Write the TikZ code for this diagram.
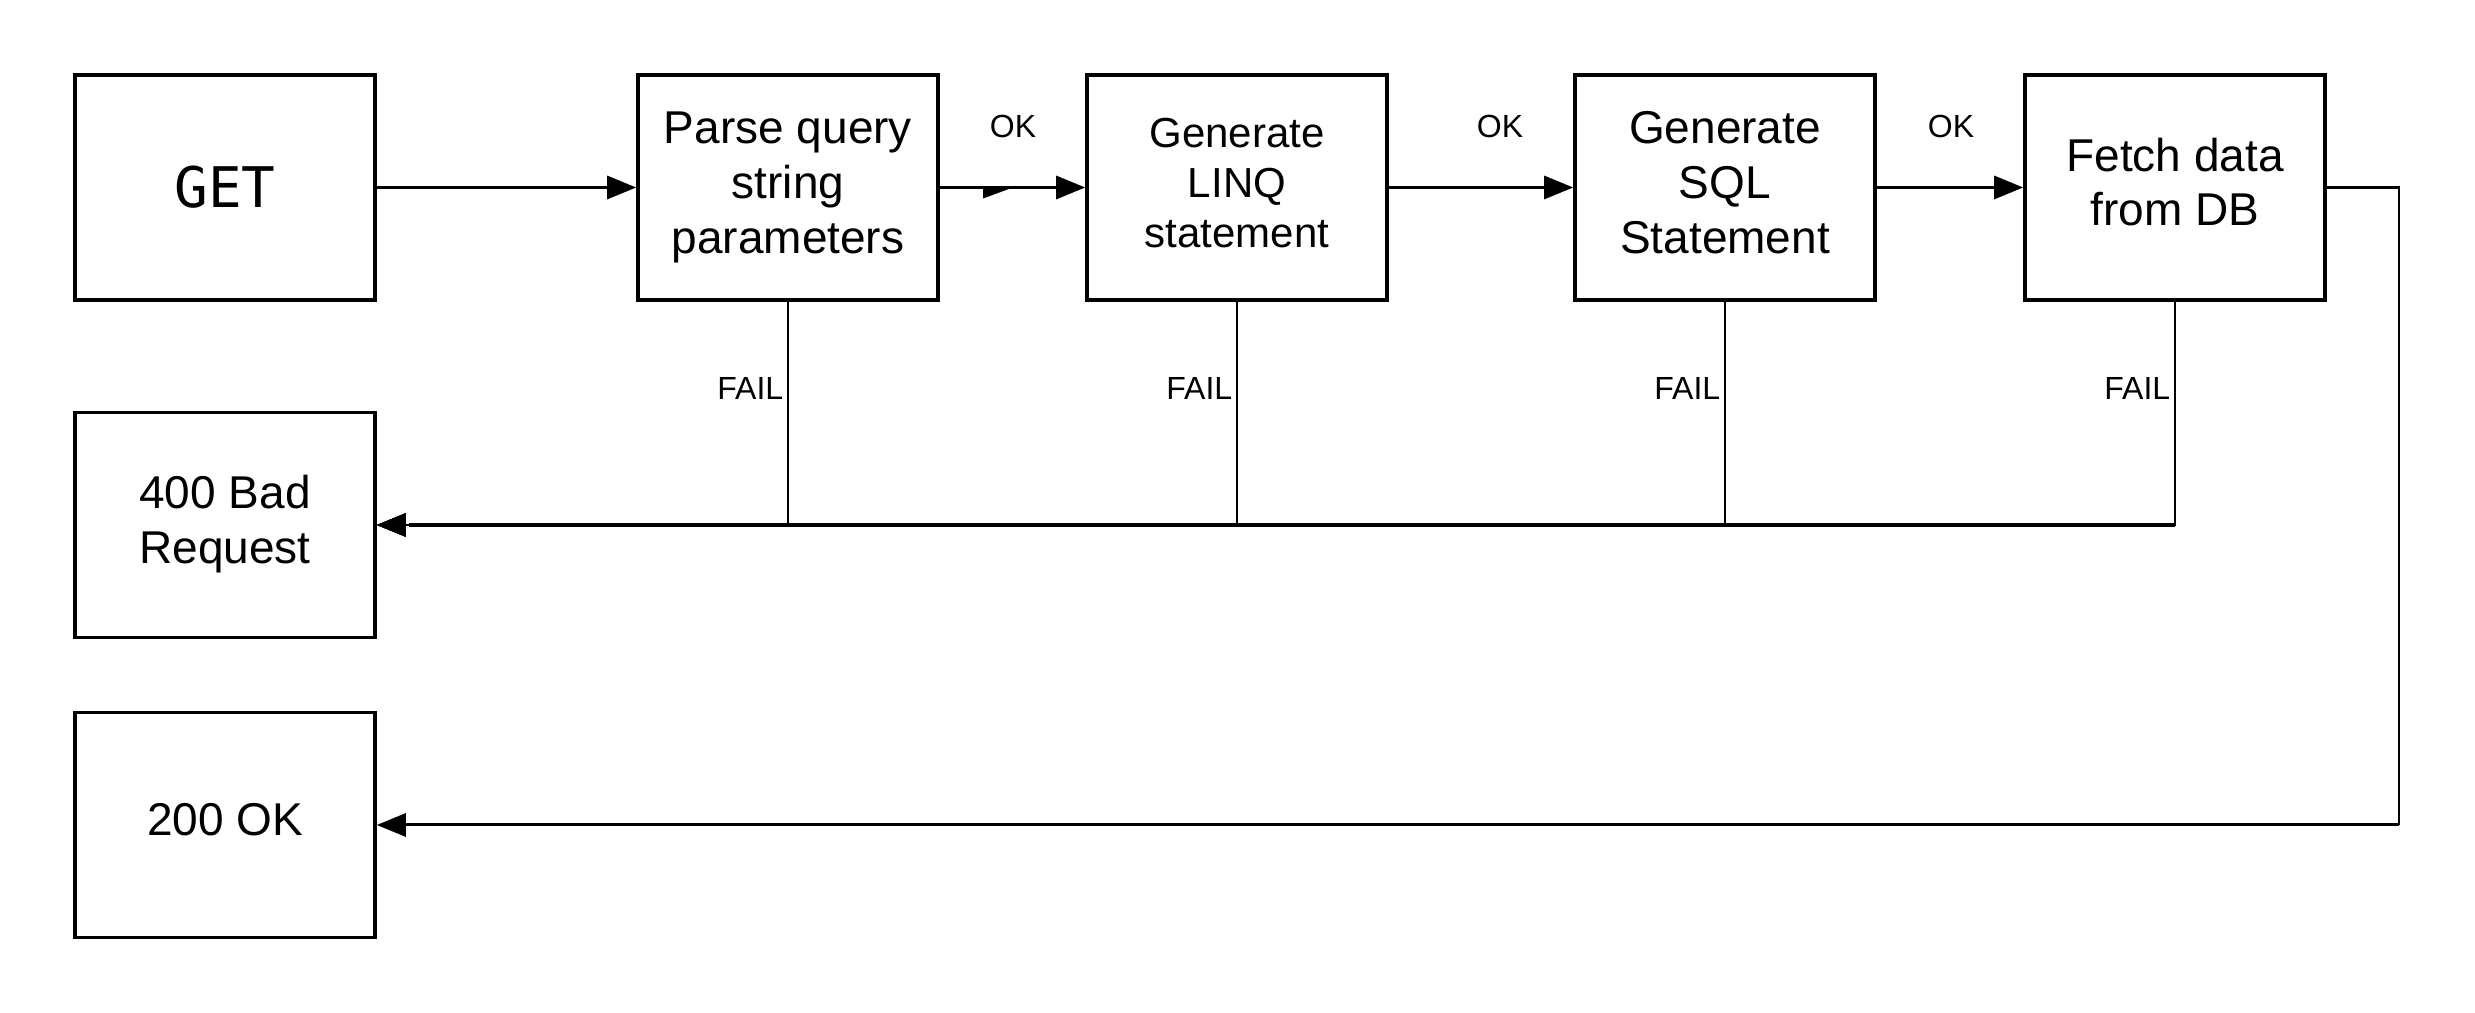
\documentclass[tikz,border=0pt]{standalone}
\usepackage{fontspec}
\setmainfont{Liberation Sans}
\newfontfamily\getfont{DejaVu Sans Mono}
\usetikzlibrary{arrows.meta}
\newcommand\boxtxt[1]{\raisebox{1.8pt}{\begin{tabular}{@{}c@{}}#1\end{tabular}}}
\begin{document}
\begin{tikzpicture}[x=0.25pt,y=-0.25pt,
  box/.style={draw,line width=0.9pt,minimum width=75pt,minimum height=56.25pt,inner sep=0pt,align=center,font=\fontsize{11.5}{13.7}\selectfont},
  conn/.style={line width=0.75pt,-{Triangle[length=7.25pt,width=5.75pt]}},
  failconn/.style={line width=0.65pt,-{Triangle[length=7.25pt,width=5.75pt]}},
  thinline/.style={line width=0.65pt},
  lbl/.style={inner sep=0pt,font=\fontsize{8}{9.6}\selectfont}]
\useasboundingbox (0,0) rectangle (2475,1013);
% boxes
\node[box,font=\getfont\fontsize{14}{16.5}\selectfont] (get) at (225,187.5) {GET};
\node[box] (parse) at (788,187.5) {\boxtxt{Parse query\\string\\parameters}};
\node[box,font=\fontsize{10.5}{12.5}\selectfont] (linq) at (1237,187.5) {\boxtxt{Generate\\LINQ\\statement}};
\node[box] (sql) at (1725,187.5) {\boxtxt{Generate\\SQL\\Statement}};
\node[box] (fetch) at (2175,187.5) {\boxtxt{Fetch data\\from DB}};
\node[box] (bad) at (225,525) {\boxtxt{400 Bad\\Request}};
\node[box] (ok) at (225,825) {\boxtxt{200 OK}};
% main flow
\draw[conn] (get) -- (parse);
\draw[conn] (parse) -- (linq);
\draw[conn] (linq) -- (sql);
\draw[conn] (sql) -- (fetch);
\fill (983,187.5) -- (1013,187.5) -- (983,198.5) -- cycle;
\node[lbl] (ok1) at (1013,127) {OK};
\node[lbl] (ok2) at (1500,127) {OK};
\node[lbl] (ok3) at (1951,127) {OK};
% fail edges
\draw[failconn] (parse.south) |- (bad.east);
\draw[failconn] (linq.south) |- (bad.east);
\draw[failconn] (sql.south) |- (bad.east);
\draw[failconn] (fetch.south) |- (bad.east);
\draw[line width=0.9pt] (fetch.south |- bad.east) -- ([xshift=8pt]bad.east);
\node[lbl,anchor=east] (f1) at (784,389) {FAIL};
\node[lbl,anchor=east] (f2) at (1233,389) {FAIL};
\node[lbl,anchor=east] (f3) at (1721,389) {FAIL};
\node[lbl,anchor=east] (f4) at (2171,389) {FAIL};
% success edge
\coordinate (bend) at (2399,187.5);
\draw[thinline] (fetch.east) -- (bend) -- (bend |- ok.east);
\draw[conn] (bend |- ok.east) -- (ok.east);
\end{tikzpicture}
\end{document}
